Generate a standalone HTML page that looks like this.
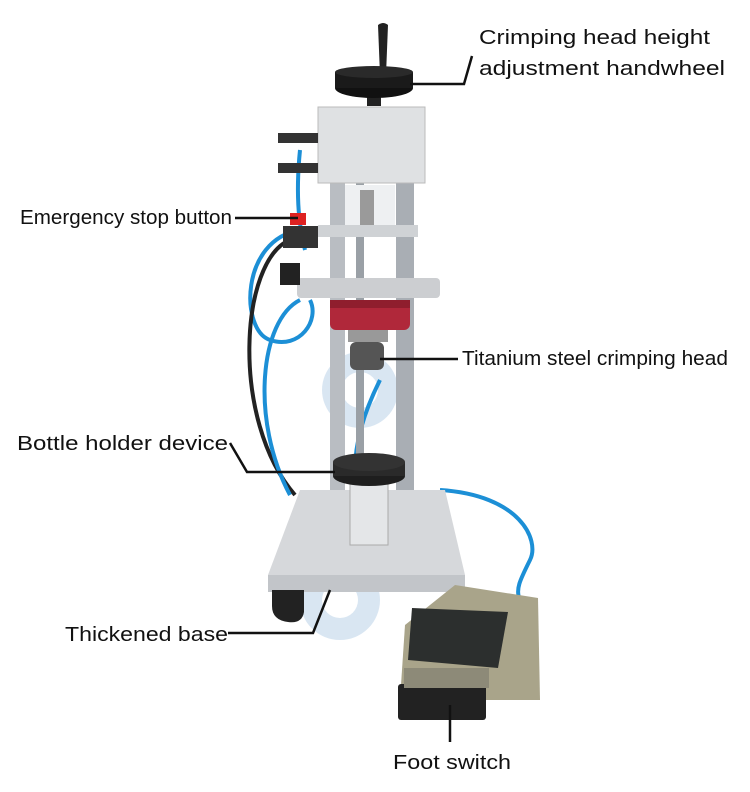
<!DOCTYPE html>
<html><head><meta charset="utf-8"><style>
html,body{margin:0;padding:0;background:#fff}
svg{display:block}
text{font-family:"Liberation Sans","DejaVu Sans",sans-serif;font-size:20px;fill:#111}
</style></head><body>
<svg width="750" height="792" viewBox="0 0 750 792" xmlns="http://www.w3.org/2000/svg">
<g fill="#cfe0ef" opacity="0.8">
<circle cx="360" cy="390" r="38"/><circle cx="340" cy="600" r="40"/>
</g>
<circle cx="360" cy="390" r="18" fill="#fff"/><circle cx="340" cy="600" r="18" fill="#fff"/>
<g fill="none" stroke-width="4">
<path d="M300 230 C240 240 240 330 270 340 C300 350 320 320 310 300" stroke="#1c8fd6"/>
<path d="M290 240 C240 260 230 420 295 495" stroke="#222"/>
<path d="M300 300 C260 320 250 420 290 495" stroke="#1c8fd6"/>
<path d="M380 380 C360 420 355 450 355 470" stroke="#1c8fd6"/>
<path d="M440 490 C520 495 540 540 530 560 C520 580 515 590 520 600" stroke="#1c8fd6"/>
<path d="M300 150 C295 200 300 230 305 250" stroke="#1c8fd6"/>
</g>
<rect x="330" y="183" width="15" height="320" fill="#b9bdc2"/>
<rect x="396" y="183" width="18" height="325" fill="#a9aeb4"/>
<rect x="356" y="183" width="8" height="300" fill="#9aa0a6"/>
<polygon points="300,490 445,490 465,575 268,575" fill="#d6d8db"/>
<rect x="268" y="575" width="197" height="17" fill="#c2c5c9"/>
<path d="M272 590 h32 v22 q-2 12 -16 10 q-16 -2 -16 -16z" fill="#222"/>
<rect x="350" y="480" width="38" height="65" fill="#e4e6e8" stroke="#aaa"/>
<ellipse cx="369" cy="476" rx="36" ry="10" fill="#1e1e1e"/>
<rect x="333" y="462" width="72" height="14" fill="#2a2a2a"/>
<ellipse cx="369" cy="462" rx="36" ry="9" fill="#333"/>
<rect x="348" y="330" width="40" height="12" fill="#999"/>
<rect x="350" y="342" width="34" height="28" rx="6" fill="#555"/>
<rect x="330" y="300" width="80" height="30" rx="6" fill="#b0283a"/>
<rect x="330" y="300" width="80" height="8" fill="#8f1e2d"/>
<rect x="297" y="278" width="143" height="20" rx="4" fill="#ccced1"/>
<rect x="318" y="107" width="107" height="76" fill="#dfe1e3" stroke="#bbb"/>
<rect x="318" y="225" width="100" height="12" fill="#cfd2d5"/>
<rect x="345" y="185" width="50" height="40" fill="#eef0f2"/>
<rect x="360" y="190" width="14" height="35" fill="#9a9a9a"/>
<rect x="278" y="133" width="40" height="10" fill="#333"/>
<rect x="278" y="163" width="40" height="10" fill="#333"/>
<rect x="290" y="213" width="16" height="12" fill="#d22"/>
<rect x="283" y="226" width="35" height="22" fill="#333"/>
<rect x="280" y="263" width="20" height="22" fill="#222"/>
<path d="M378 25 q5 -4 10 0 l-2 50 h-6z" fill="#222"/>
<rect x="367" y="90" width="14" height="16" fill="#222"/>
<ellipse cx="374" cy="88" rx="39" ry="10" fill="#111"/>
<rect x="335" y="72" width="78" height="16" fill="#1a1a1a"/>
<ellipse cx="374" cy="72" rx="39" ry="6" fill="#2a2a2a"/>
<polygon points="455,585 538,598 540,700 400,700 405,625" fill="#a9a48a"/>
<polygon points="412,608 508,612 498,668 408,660" fill="#2c2f2e"/>
<rect x="398" y="684" width="88" height="36" rx="3" fill="#222"/>
<rect x="404" y="668" width="85" height="20" fill="#8d8a78"/>
<g stroke="#111" stroke-width="2.5" fill="none">
<path d="M410 84 H464 L472 56"/>
<path d="M235 218 H298"/>
<path d="M380 359 H458"/>
<path d="M230 443 L247 472 H335"/>
<path d="M228 633 H313 L330 590"/>
<path d="M450 705 V742"/>
</g>
<text x="479" y="44" font-size="22" textLength="231" lengthAdjust="spacingAndGlyphs">Crimping head height</text>
<text x="479" y="75" font-size="22" textLength="246" lengthAdjust="spacingAndGlyphs">adjustment handwheel</text>
<text x="20" y="224" font-size="18" textLength="212" lengthAdjust="spacingAndGlyphs">Emergency stop button</text>
<text x="462" y="365" font-size="18" textLength="266" lengthAdjust="spacingAndGlyphs">Titanium steel crimping head</text>
<text x="17" y="450" font-size="21" textLength="211" lengthAdjust="spacingAndGlyphs">Bottle holder device</text>
<text x="65" y="641" font-size="21" textLength="163" lengthAdjust="spacingAndGlyphs">Thickened base</text>
<text x="393" y="769" font-size="21" textLength="118" lengthAdjust="spacingAndGlyphs">Foot switch</text>
</svg>
</body></html>
